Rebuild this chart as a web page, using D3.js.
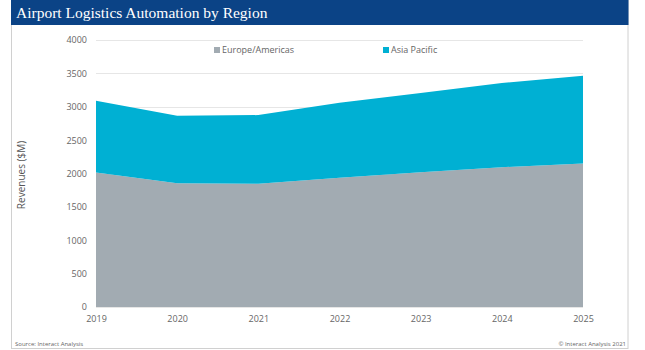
<!DOCTYPE html>
<html><head><meta charset="utf-8">
<script src="https://cdn.jsdelivr.net/npm/d3@7"></script>
<style>body{margin:0;background:#fff}svg{display:block}</style>
</head><body>
<svg id="c" width="645" height="350"></svg>
<script>
const years = [2019, 2020, 2021, 2022, 2023, 2024, 2025];
const europeAmericas = [2015, 1855, 1845, 1935, 2020, 2095, 2150];
const asiaPacific = [1075, 1010, 1030, 1125, 1185, 1260, 1315];
const seriesNames = ["Europe/Americas", "Asia Pacific"];
const colors = ["#a2abb2", "#00b0d3"];
const yTicks = [0, 500, 1000, 1500, 2000, 2500, 3000, 3500, 4000];

const svg = d3.select("#c");
const font = "'Open Sans', 'Noto Sans', sans-serif";

// frame
svg.append("rect").attr("x", 11.5).attr("y", 0.5).attr("width", 616.5).attr("height", 348)
  .attr("fill", "none").attr("stroke", "#d0d0d0");
svg.append("rect").attr("x", 11).attr("y", 0).attr("width", 617.5).attr("height", 25).attr("fill", "#0b4386");
svg.append("text").attr("x", 16).attr("y", 18).text("Airport Logistics Automation by Region")
  .attr("fill", "#fff").attr("font-family", "'Liberation Serif', 'DejaVu Serif', serif")
  .attr("font-size", 15.5);

const x = d3.scalePoint().domain(years).range([96, 583]);
const y = d3.scaleLinear().domain([0, 4000]).range([307, 40]);

// grid
svg.append("g").selectAll("line").data(yTicks).join("line")
  .attr("x1", 96).attr("x2", 583).attr("y1", d => Math.round(y(d)) + 0.5).attr("y2", d => Math.round(y(d)) + 0.5)
  .attr("stroke", "#e6e6e6");

const table = years.map((yr, i) => ({year: yr, ea: europeAmericas[i], ap: asiaPacific[i]}));
const stack = d3.stack().keys(["ea", "ap"])(table);
const area = d3.area().x(d => x(d.data.year)).y0(d => y(d[0])).y1(d => y(d[1]));
svg.append("g").selectAll("path").data(stack).join("path")
  .attr("d", area).attr("fill", (d, i) => colors[i]);

// y axis
const ya = svg.append("g").attr("transform", "translate(96,0)")
  .call(d3.axisLeft(y).tickValues(yTicks).tickSize(0).tickPadding(9).tickFormat(d3.format("d")));
ya.select(".domain").remove();
ya.selectAll("text").attr("font-family", font).attr("font-size", 9).attr("fill", "#666");

// x axis
const xa = svg.append("g").attr("transform", "translate(0,307)")
  .call(d3.axisBottom(x).tickSize(0).tickPadding(9).tickFormat(d3.format("d")));
xa.select(".domain").remove();
xa.selectAll("text").attr("font-family", font).attr("font-size", 9).attr("fill", "#666");

// y title
svg.append("text").attr("transform", "translate(25,175) rotate(-90)").attr("text-anchor", "middle")
  .text("Revenues ($M)").attr("font-family", font).attr("font-size", 10).attr("fill", "#555");

// legend
const legX = [214, 383];
const lg = svg.append("g").selectAll("g").data(seriesNames).join("g")
  .attr("transform", (d, i) => `translate(${legX[i]},53)`);
lg.append("rect").attr("x", 0).attr("y", -6).attr("width", 6).attr("height", 6).attr("fill", (d, i) => colors[i]);
lg.append("text").attr("x", 8).attr("y", 0).text(d => d)
  .attr("font-family", font).attr("font-size", 9).attr("fill", "#666");

// footer
svg.append("text").attr("x", 15).attr("y", 346).text("Source: Interact Analysis")
  .attr("font-family", font).attr("font-size", 6).attr("fill", "#666");
svg.append("text").attr("x", 626).attr("y", 346).attr("text-anchor", "end").text("© Interact Analysis 2021")
  .attr("font-family", font).attr("font-size", 6).attr("fill", "#666");
</script>
</body></html>
